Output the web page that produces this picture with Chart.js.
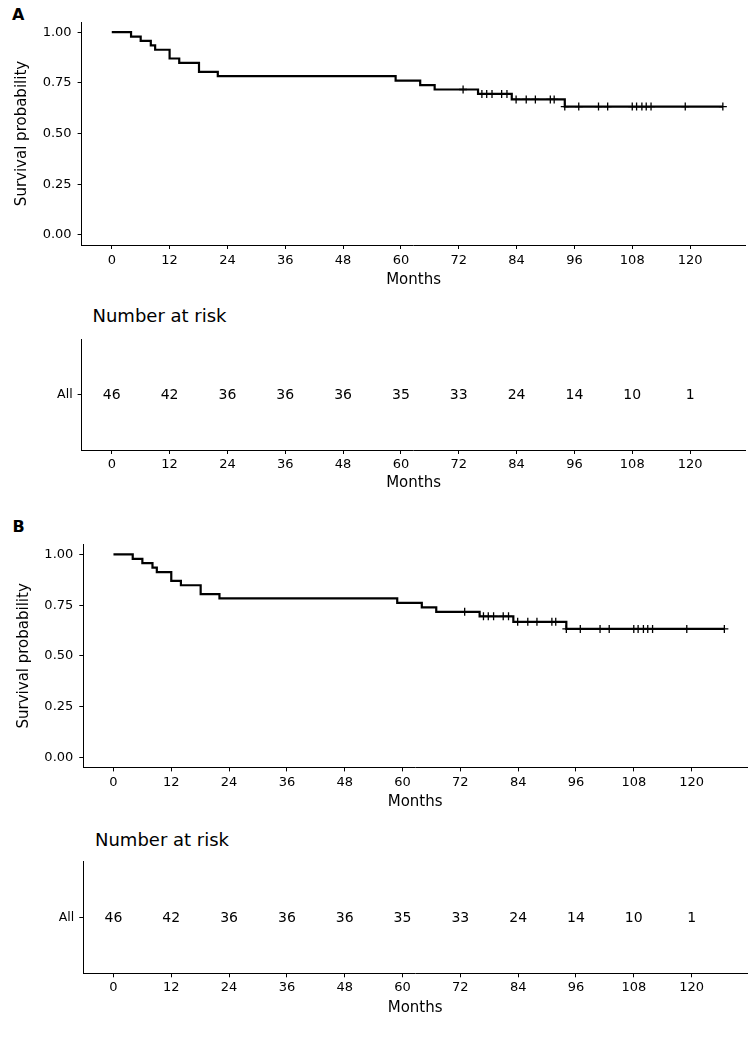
<!DOCTYPE html>
<html>
<head>
<meta charset="utf-8">
<script src="https://cdn.jsdelivr.net/npm/chart.js@4.4.1/dist/chart.umd.min.js"></script>
<style>
  html, body { margin: 0; padding: 0; background: #fff; }
  #page { position: relative; width: 756px; height: 1040px; overflow: hidden; font-family: "DejaVu Sans", Verdana, sans-serif; }
  canvas { position: absolute; left: 0; }
  .tag { position: absolute; font-weight: bold; font-size: 16px; line-height: 16px; color: #000; }
  .risk-title { position: absolute; font-size: 18px; line-height: 18px; color: #000; white-space: nowrap; }
</style>
</head>
<body>
<div id="page">
  <div class="tag" style="left:12px; top:6.5px;">A</div>
  <canvas id="survA" width="756" height="300" style="top:0px"></canvas>
  <div class="risk-title" style="left:92.5px; top:306.5px;">Number at risk</div>
  <canvas id="riskA" width="756" height="200" style="top:300px"></canvas>

  <div class="tag" style="left:12.5px; top:518.5px;">B</div>
  <canvas id="survB" width="756" height="320" style="top:500px"></canvas>
  <div class="risk-title" style="left:95px; top:830.5px;">Number at risk</div>
  <canvas id="riskB" width="756" height="220" style="top:820px"></canvas>
</div>
<script>
// Kaplan-Meier curve: time of each drop and survival after it
const curveTimes = [0, 4.0, 6.0, 8.1, 9.0, 12.0, 14.0, 18.1, 22.0, 58.9, 64.0, 67.0, 76.0, 83.0, 94.0, 126.8];
const curveSurv  = [1.000, 0.978, 0.957, 0.935, 0.913, 0.870, 0.848, 0.804, 0.783, 0.761, 0.739, 0.717, 0.695, 0.668, 0.633, 0.633];

// censored observations (+ marks)
const censorTimes = [72.9, 76.8, 77.8, 78.9, 80.9, 82.0, 83.9, 86.0, 87.9, 91.0, 91.8, 94.0,
                     96.9, 101.0, 102.9, 108.0, 108.9, 110.0, 110.9, 111.9, 119.0, 126.8];
const censorSurv  = [0.717, 0.695, 0.695, 0.695, 0.695, 0.695, 0.668, 0.668, 0.668, 0.668, 0.668, 0.633,
                     0.633, 0.633, 0.633, 0.633, 0.633, 0.633, 0.633, 0.633, 0.633, 0.633];

// number at risk table
const riskTimes = [0, 12, 24, 36, 48, 60, 72, 84, 96, 108, 120];
const atRisk    = [46, 42, 36, 36, 36, 35, 33, 24, 14, 10, 1];
const riskGroups = ['All'];

const monthTicks = [0, 12, 24, 36, 48, 60, 72, 84, 96, 108, 120];
const survTicks  = [0, 0.25, 0.5, 0.75, 1];

Chart.defaults.font.family = '"DejaVu Sans", Verdana, sans-serif';
Chart.defaults.color = '#000';

const FONT = '"DejaVu Sans", Verdana, sans-serif';

// draws the at-risk counts at the data positions
const riskLabels = {
    id: 'riskLabels',
    afterDatasetsDraw(chart) {
        const meta = chart.getDatasetMeta(0);
        const ctx = chart.ctx;
        ctx.save();
        ctx.font = '14px ' + FONT;
        ctx.fillStyle = '#000';
        ctx.textAlign = 'center';
        ctx.textBaseline = 'middle';
        meta.data.forEach((pt, i) => ctx.fillText(String(atRisk[i]), pt.x, pt.y + 1));
        ctx.restore();
    }
};

function xAxis(box, canvasH) {
    return {
        type: 'linear', min: -6.26, max: 131.5,
        afterBuildTicks: s => { s.ticks = monthTicks.map(v => ({ value: v })); },
        afterFit: s => { s.height = canvasH - box.bottom; },
        grid: { display: true, drawOnChartArea: false, drawTicks: true, tickLength: 4, tickColor: '#000', tickWidth: 1 },
        border: { display: true, color: '#000', width: 1 },
        ticks: { font: { size: 13 }, color: '#000', padding: box.xTickPad, maxRotation: 0, autoSkip: false },
        title: { display: true, text: 'Months', font: { size: 15 }, color: '#000', padding: { top: 0, bottom: box.xTitlePad } }
    };
}

function survivalChart(id, box, canvasH) {
    return new Chart(document.getElementById(id), {
        type: 'line',
        data: {
            datasets: [
                {
                    data: curveTimes.map((t, i) => ({ x: t, y: curveSurv[i] })),
                    stepped: 'before', borderColor: '#000', borderWidth: 2.2, pointRadius: 0, fill: false,
                    borderCapStyle: 'butt', borderJoinStyle: 'miter'
                },
                {
                    data: censorTimes.map((t, i) => ({ x: t, y: censorSurv[i] })),
                    showLine: false, pointStyle: 'cross', pointRadius: 4, borderColor: '#000', borderWidth: 1.3
                }
            ]
        },
        options: {
            responsive: false, animation: false, events: [],
            layout: { padding: { top: box.top, right: 756 - box.right, left: 0, bottom: 0 } },
            plugins: { legend: { display: false }, tooltip: { enabled: false } },
            scales: {
                x: xAxis(box, canvasH),
                y: {
                    type: 'linear', min: -0.05, max: 1.05,
                    afterBuildTicks: s => { s.ticks = survTicks.map(v => ({ value: v })); },
                    afterFit: s => { s.width = box.left; },
                    grid: { display: true, drawOnChartArea: false, drawTicks: true, tickLength: 4, tickColor: '#000', tickWidth: 1 },
                    border: { display: true, color: '#000', width: 1 },
                    ticks: { font: { size: 13 }, color: '#000', padding: 6, callback: v => Number(v).toFixed(2) },
                    title: { display: true, text: 'Survival probability', font: { size: 15 }, color: '#000', padding: { top: box.yTitlePad, bottom: 0 } }
                }
            }
        }
    });
}

function riskChart(id, box, canvasH) {
    return new Chart(document.getElementById(id), {
        type: 'scatter',
        data: {
            datasets: [{
                data: riskTimes.map(t => ({ x: t, y: riskGroups[0] })),
                pointRadius: 0
            }]
        },
        options: {
            responsive: false, animation: false, events: [],
            layout: { padding: { top: box.top, right: 756 - box.right, left: 0, bottom: 0 } },
            plugins: { legend: { display: false }, tooltip: { enabled: false } },
            scales: {
                x: xAxis(box, canvasH),
                y: {
                    type: 'category', labels: riskGroups, offset: true,
                    afterFit: s => { s.width = box.left; },
                    grid: { display: true, drawOnChartArea: false, drawTicks: true, tickLength: 4, tickColor: '#000', tickWidth: 1, offset: false },
                    border: { display: true, color: '#000', width: 1 },
                    ticks: { font: { size: 12.5 }, color: '#000', padding: 5 }
                }
            }
        },
        plugins: [riskLabels]
    });
}

survivalChart('survA', { left: 81.6, right: 745.5, top: 22, bottom: 245, xTickPad: 3.5, xTitlePad: 11, yTitlePad: 13.5 }, 300);
riskChart('riskA', { left: 81.6, right: 745.5, top: 39.3, bottom: 150, xTickPad: 3, xTitlePad: 7.5 }, 200);
survivalChart('survB', { left: 83.3, right: 747, top: 44.3, bottom: 267.4, xTickPad: 3.5, xTitlePad: 8.7, yTitlePad: 15.2 }, 320);
riskChart('riskB', { left: 83.3, right: 747, top: 41.7, bottom: 153.3, xTickPad: 3, xTitlePad: 22.7 }, 220);
</script>
</body>
</html>
